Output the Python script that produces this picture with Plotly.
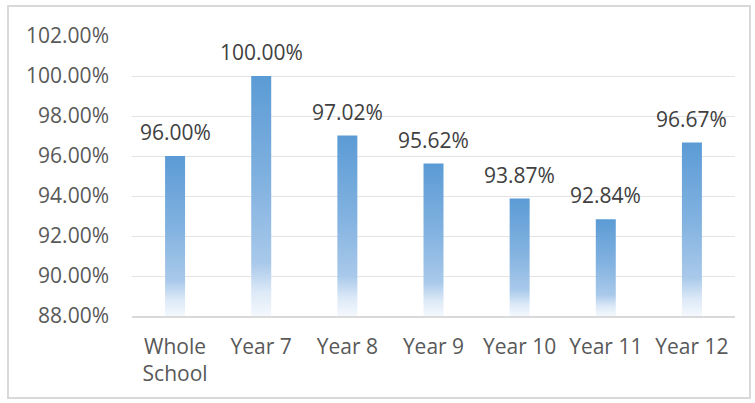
import plotly.graph_objects as go

categories = ["Whole<br>School", "Year 7", "Year 8", "Year 9", "Year 10", "Year 11", "Year 12"]
attendance = [96.00, 100.00, 97.02, 95.62, 93.87, 92.84, 96.67]
y_ticks = [88, 90, 92, 94, 96, 98, 100, 102]
y_tick_labels = [f"{t:.2f}%" for t in y_ticks]
y_min, y_max = 88, 102

half_width = 0.116
gradient = [[0.0, "#F4F8FD"], [0.1, "#DCE9F7"], [0.22, "#A9C9EA"], [0.55, "#82B2E0"], [1.0, "#5B9BD5"]]

fig = go.Figure()
for i, v in enumerate(attendance):
    fig.add_trace(go.Scatter(
        x=[i - half_width, i + half_width, i + half_width, i - half_width, i - half_width],
        y=[y_min, y_min, v, v, y_min],
        mode="lines", line=dict(width=0), fill="toself",
        fillgradient=dict(type="vertical", colorscale=gradient),
        hoverinfo="skip", showlegend=False,
    ))
    fig.add_annotation(x=i, y=v, text=f"{v:.2f}%", showarrow=False, yshift=24,
                       yanchor="middle", font=dict(family="Open Sans", size=21, color="#404040"))

fig.update_layout(
    width=755, height=403,
    margin=dict(l=132, r=20, t=36, b=87),
    paper_bgcolor="white", plot_bgcolor="white",
    font=dict(family="Open Sans", size=21, color="#595959"),
    showlegend=False,
    xaxis=dict(range=[-0.5, 6.5], tickvals=list(range(len(categories))), ticktext=categories,
               showgrid=False, zeroline=False, showline=True, linecolor="#D9D9D9", linewidth=1.5,
               ticks="", ticklabelstandoff=11),
    yaxis=dict(range=[y_min, y_max], tickvals=y_ticks, ticktext=y_tick_labels,
               showgrid=True, gridcolor="#E3E3E3", gridwidth=1, zeroline=False, showline=False,
               ticks="", ticklabelstandoff=22),
    shapes=[dict(type="rect", xref="paper", yref="paper",
                 x0=(8 - 132) / 603, x1=(750 - 132) / 603,
                 y0=-(398 - 316) / 280, y1=1 + (36 - 6) / 280,
                 line=dict(color="#D9D9D9", width=2), layer="below")],
)

fig.write_html("out.html")
